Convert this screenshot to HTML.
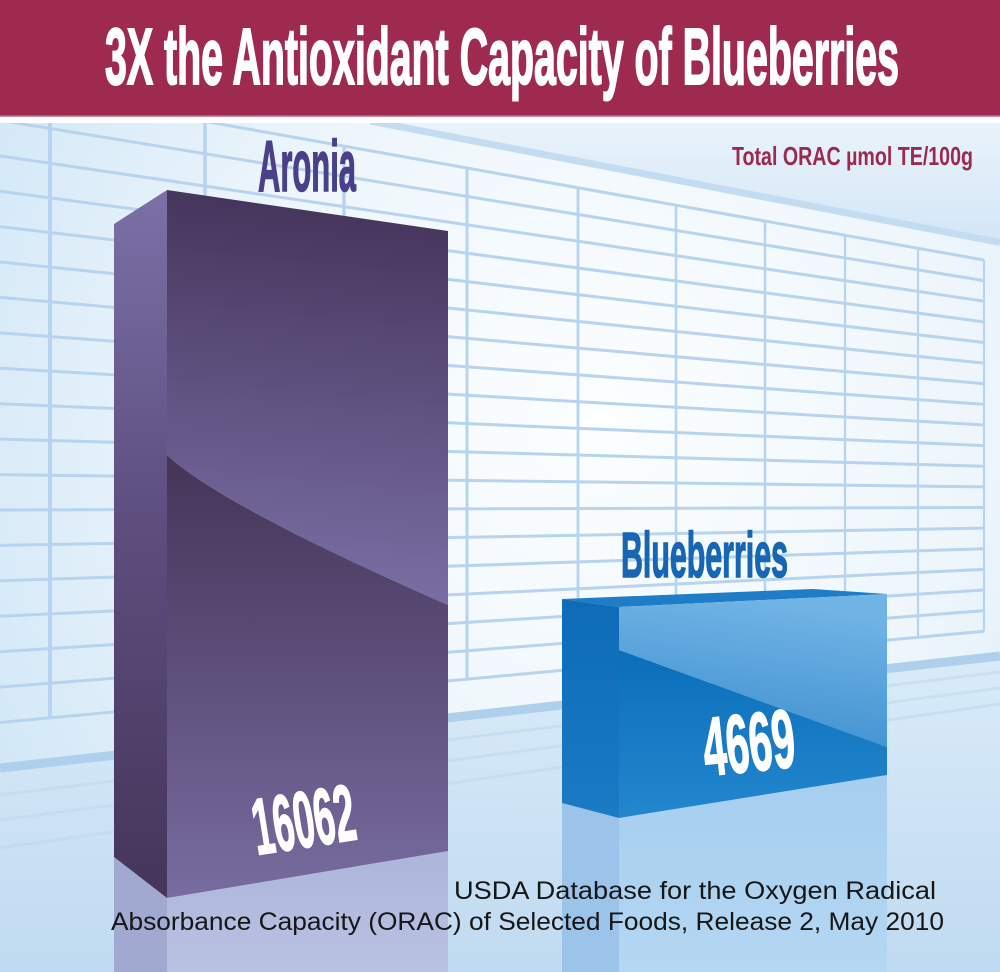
<!DOCTYPE html>
<html><head><meta charset="utf-8"><style>html,body{margin:0;padding:0;background:#fff}svg{display:block}</style></head>
<body>
<svg width="1000" height="972" viewBox="0 0 1000 972" xmlns="http://www.w3.org/2000/svg">
<defs>
<radialGradient id="wall" cx="600" cy="420" r="680" gradientUnits="userSpaceOnUse">
<stop offset="0" stop-color="#fcfeff"/><stop offset="0.55" stop-color="#eef6fc"/><stop offset="1" stop-color="#d3e8f7"/>
</radialGradient>
<linearGradient id="ceil" x1="0" y1="123" x2="0" y2="243" gradientUnits="userSpaceOnUse"><stop offset="0" stop-color="#e9f3fb"/><stop offset="1" stop-color="#d3e6f6"/></linearGradient>
<linearGradient id="floor" x1="0" y1="660" x2="0" y2="972" gradientUnits="userSpaceOnUse"><stop offset="0" stop-color="#d9ebf8"/><stop offset="1" stop-color="#c0daf1"/></linearGradient>
<linearGradient id="aLeft" x1="0" y1="190" x2="0" y2="898" gradientUnits="userSpaceOnUse"><stop offset="0" stop-color="#7b71a7"/><stop offset="0.45" stop-color="#5e4f80"/><stop offset="1" stop-color="#45355a"/></linearGradient>
<linearGradient id="aUp" x1="300" y1="190" x2="260" y2="600" gradientUnits="userSpaceOnUse"><stop offset="0" stop-color="#44335a"/><stop offset="1" stop-color="#7b70a6"/></linearGradient>
<linearGradient id="aLow" x1="0" y1="470" x2="0" y2="898" gradientUnits="userSpaceOnUse"><stop offset="0" stop-color="#46365a"/><stop offset="1" stop-color="#786ca0"/></linearGradient>
<linearGradient id="aRefF" x1="0" y1="851" x2="0" y2="972" gradientUnits="userSpaceOnUse"><stop offset="0" stop-color="#adb5da"/><stop offset="1" stop-color="#b9c2e3"/></linearGradient>
<linearGradient id="bLeft" x1="0" y1="600" x2="0" y2="818" gradientUnits="userSpaceOnUse"><stop offset="0" stop-color="#0d6bb8"/><stop offset="1" stop-color="#1a7ac4"/></linearGradient>
<linearGradient id="bUp" x1="700" y1="594" x2="680" y2="740" gradientUnits="userSpaceOnUse"><stop offset="0" stop-color="#70b3e5"/><stop offset="1" stop-color="#3f90d0"/></linearGradient>
<linearGradient id="bLow" x1="0" y1="660" x2="0" y2="818" gradientUnits="userSpaceOnUse"><stop offset="0" stop-color="#0c6fbb"/><stop offset="1" stop-color="#2387ce"/></linearGradient>
<linearGradient id="bRefF" x1="0" y1="775" x2="0" y2="972" gradientUnits="userSpaceOnUse"><stop offset="0" stop-color="#a6ceef"/><stop offset="1" stop-color="#b4d7f2"/></linearGradient>
</defs>

<!-- wall -->
<rect x="0" y="123" width="1000" height="849" fill="url(#wall)"/>
<!-- ceiling -->
<polygon points="375,123 1000,123 1000,243" fill="url(#ceil)"/>
<line x1="370" y1="121" x2="1000" y2="242.5" stroke="#c4dcf1" stroke-width="7"/>

<!-- grid horizontal lines -->
<g stroke="#b6d4ef" stroke-width="3">
<line x1="0" y1="84.9" x2="984" y2="260"/>
<line x1="0" y1="120.3" x2="984" y2="280.6"/>
<line x1="0" y1="155.8" x2="984" y2="301.2"/>
<line x1="0" y1="191.2" x2="984" y2="321.9"/>
<line x1="0" y1="226.6" x2="984" y2="342.5"/>
<line x1="0" y1="262" x2="984" y2="363.1"/>
<line x1="0" y1="297.4" x2="984" y2="383.7"/>
<line x1="0" y1="332.9" x2="984" y2="404.4"/>
<line x1="0" y1="368.3" x2="984" y2="425"/>
<line x1="0" y1="403.7" x2="984" y2="445.6"/>
<line x1="0" y1="439.1" x2="984" y2="466.2"/>
<line x1="0" y1="474.6" x2="984" y2="486.9"/>
<line x1="0" y1="510" x2="984" y2="507.5"/>
<line x1="0" y1="545.4" x2="984" y2="528.1"/>
<line x1="0" y1="580.8" x2="984" y2="548.7"/>
<line x1="0" y1="616.3" x2="984" y2="569.4"/>
<line x1="0" y1="651.7" x2="984" y2="590"/>
<line x1="0" y1="687.1" x2="984" y2="610.6"/>
<line x1="0" y1="722.5" x2="984" y2="631.2"/>
</g>
<!-- grid vertical lines -->
<g stroke="#b6d4ef">
<line x1="50" y1="93.8" x2="50" y2="718" stroke-width="4"/>
<line x1="205" y1="121.4" x2="205" y2="703.5" stroke-width="3.6"/>
<line x1="344" y1="146.1" x2="344" y2="690.6" stroke-width="3.3"/>
<line x1="467" y1="168" x2="467" y2="679.2" stroke-width="3"/>
<line x1="578" y1="187.7" x2="578" y2="668.9" stroke-width="2.8"/>
<line x1="676" y1="205.2" x2="676" y2="659.8" stroke-width="2.6"/>
<line x1="765" y1="221" x2="765" y2="651.5" stroke-width="2.5"/>
<line x1="845" y1="235.3" x2="845" y2="644.1" stroke-width="2.3"/>
<line x1="918" y1="248.3" x2="918" y2="637.3" stroke-width="2.2"/>
<line x1="984" y1="260" x2="984" y2="631.2" stroke-width="2.1"/>
</g>

<!-- floor -->
<polygon points="0,768 1000,656 1000,972 0,972" fill="url(#floor)"/>
<g stroke="#bdd7ee" stroke-width="3" opacity="0.5">
<line x1="0" y1="795" x2="1000" y2="672"/>
<line x1="0" y1="820" x2="1000" y2="688"/>
<line x1="0" y1="848" x2="1000" y2="704"/>
</g>
<line x1="0" y1="768" x2="1000" y2="656" stroke="#aed0ed" stroke-width="9"/>

<!-- Aronia reflection -->
<polygon points="114,857 167,898 167,972 114,972" fill="#a1a9d0"/>
<polygon points="167,898 448,851 448,972 167,972" fill="url(#aRefF)"/>
<!-- Aronia bar -->
<polygon points="114,224 167,190 167,898 114,857" fill="url(#aLeft)"/>
<path d="M167,190 L448,231 L448,605 Q220,505 167,455 Z" fill="url(#aUp)"/>
<path d="M167,455 Q220,505 448,605 L448,851 L167,898 Z" fill="url(#aLow)"/>

<!-- Blueberries reflection -->
<polygon points="562,803 619,818 619,972 562,972" fill="#9cc4ea"/>
<polygon points="619,818 887,775 887,972 619,972" fill="url(#bRefF)"/>
<!-- Blueberries bar -->
<polygon points="562,599 619,607 619,818 562,803" fill="url(#bLeft)"/>
<polygon points="562,599 813,589 887,594 619,607" fill="#1f7cc6"/>
<polygon points="619,607 887,594 887,747 619,650" fill="url(#bUp)"/>
<polygon points="619,650 887,747 887,775 619,818" fill="url(#bLow)"/>

<!-- header -->
<rect x="0" y="0" width="1000" height="116" fill="#9e2a4f"/>
<rect x="0" y="115.5" width="1000" height="1.5" fill="#c88ba0"/>
<rect x="0" y="117" width="1000" height="6" fill="#ffffff"/>
<text x="105" y="84" font-family="Liberation Sans Narrow, Liberation Sans, sans-serif" font-weight="bold" font-size="80" fill="#ffffff" stroke="#ffffff" stroke-width="2" textLength="794" lengthAdjust="spacingAndGlyphs">3X the Antioxidant Capacity of Blueberries</text>

<!-- labels -->
<text x="258" y="191" font-family="Liberation Sans Narrow, Liberation Sans, sans-serif" font-weight="bold" font-size="72" fill="#4a4089" stroke="#4a4089" stroke-width="1.5" textLength="98" lengthAdjust="spacingAndGlyphs">Aronia</text>
<text x="732" y="165" font-family="Liberation Sans Narrow, Liberation Sans, sans-serif" font-weight="bold" font-size="26" fill="#9b2a4f" textLength="241" lengthAdjust="spacingAndGlyphs">Total ORAC µmol TE/100g</text>
<text x="621" y="577" font-family="Liberation Sans Narrow, Liberation Sans, sans-serif" font-weight="bold" font-size="64" fill="#1666b3" stroke="#1666b3" stroke-width="1.5" textLength="167" lengthAdjust="spacingAndGlyphs">Blueberries</text>

<!-- values -->
<text x="257" y="855" transform="rotate(-9 257 855)" font-family="Liberation Sans Narrow, Liberation Sans, sans-serif" font-weight="bold" font-size="80" fill="#ffffff" stroke="#ffffff" stroke-width="1.5" textLength="103" lengthAdjust="spacingAndGlyphs">16062</text>
<text x="706" y="776" transform="rotate(-6 706 776)" font-family="Liberation Sans Narrow, Liberation Sans, sans-serif" font-weight="bold" font-size="83" fill="#ffffff" stroke="#ffffff" stroke-width="1.5" textLength="92" lengthAdjust="spacingAndGlyphs">4669</text>

<!-- source -->
<text x="454" y="899" font-family="Liberation Sans, sans-serif" font-size="25" fill="#161616" textLength="482" lengthAdjust="spacingAndGlyphs">USDA Database for the Oxygen Radical</text>
<text x="111" y="930" font-family="Liberation Sans, sans-serif" font-size="25" fill="#161616" textLength="833" lengthAdjust="spacingAndGlyphs">Absorbance Capacity (ORAC) of Selected Foods, Release 2, May 2010</text>
</svg>
</body></html>
